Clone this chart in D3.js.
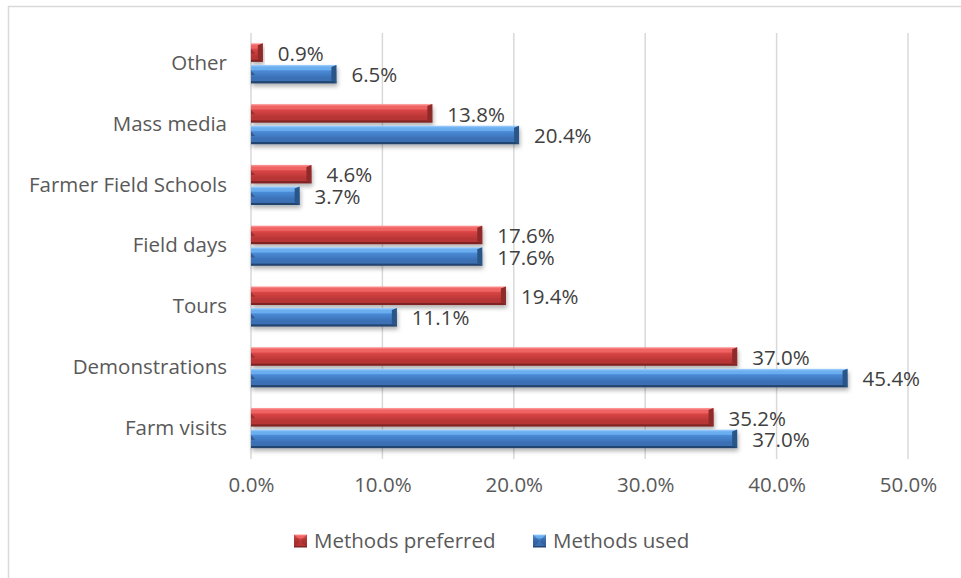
<!DOCTYPE html>
<html>
<head>
<meta charset="utf-8">
<script src="https://cdn.jsdelivr.net/npm/d3@7/dist/d3.min.js"></script>
<style>
  html, body { margin: 0; padding: 0; background: #fff; }
  svg { display: block; }
  text { font-family: "Open Sans", sans-serif; }
</style>
</head>
<body>
<svg id="chart" width="961" height="578"></svg>
<script>
// Extension methods: share of farmers (%)
const categories = ["Other", "Mass media", "Farmer Field Schools", "Field days", "Tours", "Demonstrations", "Farm visits"];
const methodsPreferred = [0.9, 13.8, 4.6, 17.6, 19.4, 37.0, 35.2];
const methodsUsed = [6.5, 20.4, 3.7, 17.6, 11.1, 45.4, 37.0];
const seriesNames = ["Methods preferred", "Methods used"];
const xTicks = [0, 10, 20, 30, 40, 50];

const W = 961, H = 578;
const margin = { left: 251, right: 53, top: 33, bottom: 120 };
const FONT = "'Open Sans', sans-serif";
const FS = 20.5;
const svg = d3.select("#chart");

// chart frame
svg.append("rect").attr("x", 8.5).attr("y", 6.5).attr("width", W + 20).attr("height", H + 20)
  .attr("fill", "#fff").attr("stroke", "#d9d9d9").attr("stroke-width", 1.5);

const x = d3.scaleLinear().domain([0, 50]).range([margin.left, 908]);
const y = d3.scaleBand().domain(categories).range([margin.top, 458.5]).paddingInner(0.34).paddingOuter(0.17);
const sub = d3.scaleBand().domain(seriesNames).range([0, y.bandwidth()]).paddingInner(0.14);

const defs = svg.append("defs");
const palettes = {
  "Methods preferred": { top: "#ff9a9a", hi: "#f06464", mid: "#d94545", low: "#b83535", bot: "#7f2424", end: "#8e2a2a" },
  "Methods used": { top: "#a6d2ff", hi: "#6aaef0", mid: "#4a8ad6", low: "#3a6fb4", bot: "#24456f", end: "#2b5487" }
};
Object.entries(palettes).forEach(([name, p], i) => {
  const g = defs.append("linearGradient").attr("id", "grad" + i).attr("x1", 0).attr("y1", 0).attr("x2", 0).attr("y2", 1);
  [[0, p.top], [0.12, p.hi], [0.25, p.hi], [0.32, p.mid], [0.7, p.low], [0.86, p.low], [0.9, p.bot], [1, p.bot]]
    .forEach(([o, c]) => g.append("stop").attr("offset", o).attr("stop-color", c));
});
const shadow = defs.append("filter").attr("id", "shadow").attr("x", "-5%").attr("y", "-20%").attr("width", "115%").attr("height", "160%");
shadow.append("feDropShadow").attr("dx", 1).attr("dy", 3).attr("stdDeviation", 2).attr("flood-color", "#000").attr("flood-opacity", 0.3);

// vertical gridlines
svg.append("g").selectAll("line").data(xTicks).join("line")
  .attr("x1", d => x(d)).attr("x2", d => x(d))
  .attr("y1", margin.top).attr("y2", 459)
  .attr("stroke", "#d9d9d9").attr("stroke-width", 1.5);

// x axis tick labels
const xAxis = d3.axisBottom(x).tickValues(xTicks).tickSize(0).tickPadding(0).tickFormat(d => d.toFixed(1) + "%");
const xg = svg.append("g").attr("transform", "translate(0,477)").call(xAxis);
xg.select(".domain").remove();
xg.selectAll("text").attr("fill", "#595959").attr("font-size", FS).style("font-family", FONT);

// y axis category labels
const yAxis = d3.axisLeft(y).tickSize(0).tickPadding(24);
const yg = svg.append("g").attr("transform", `translate(${margin.left},0)`).call(yAxis);
yg.select(".domain").remove();
yg.selectAll("text").attr("fill", "#595959").attr("font-size", FS).style("font-family", FONT);

const rows = categories.map((c, i) => ({ c, vals: [methodsPreferred[i], methodsUsed[i]] }));

const groups = svg.append("g").selectAll("g").data(rows).join("g")
  .attr("transform", d => `translate(0,${y(d.c)})`);

seriesNames.forEach((s, si) => {
  const p = palettes[s];
  const bar = groups.append("g").attr("filter", "url(#shadow)");
  const by = sub(s), bh = sub.bandwidth();
  bar.append("rect")
    .attr("x", x(0)).attr("y", by)
    .attr("width", d => x(d.vals[si]) - x(0)).attr("height", bh)
    .attr("fill", `url(#grad${si})`);
  // bevelled right end
  bar.append("path")
    .attr("d", d => {
      const xe = x(d.vals[si]), b = Math.min(5, (xe - x(0)) / 2);
      return `M${xe - b},${by + 2}L${xe},${by}L${xe},${by + bh}L${xe - b},${by + bh - 3}Z`;
    })
    .attr("fill", p.end);
  // bevel corner at left end
  bar.append("path")
    .attr("d", `M${x(0)},${by + bh * 0.3}L${x(0) + 4},${by + bh * 0.55}L${x(0)},${by + bh * 0.55}Z`)
    .attr("fill", p.bot).attr("opacity", 0.6);
  // value labels
  groups.append("text")
    .attr("x", d => x(d.vals[si]) + 15)
    .attr("y", by + bh / 2 + 1)
    .attr("dy", "0.35em")
    .attr("fill", "#404040").attr("font-size", FS)
    .text(d => d.vals[si].toFixed(1) + "%");
});

// legend
const legend = svg.append("g").attr("transform", "translate(0,541)");
const legX = [294, 533];
seriesNames.forEach((s, i) => {
  const g = legend.append("g").attr("transform", `translate(${legX[i]},0)`);
  g.append("rect").attr("x", 0).attr("y", -6.5).attr("width", 13).attr("height", 13).attr("fill", `url(#grad${i})`);
  g.append("path").attr("d", "M0,-6.5L6.5,0L0,6.5Z M13,-6.5L6.5,0L13,6.5Z").attr("fill", palettes[s].end).attr("opacity", 0.5);
  g.append("text").attr("x", 20).attr("dy", "0.35em").attr("fill", "#595959").attr("font-size", FS).text(s);
});
</script>
</body>
</html>
